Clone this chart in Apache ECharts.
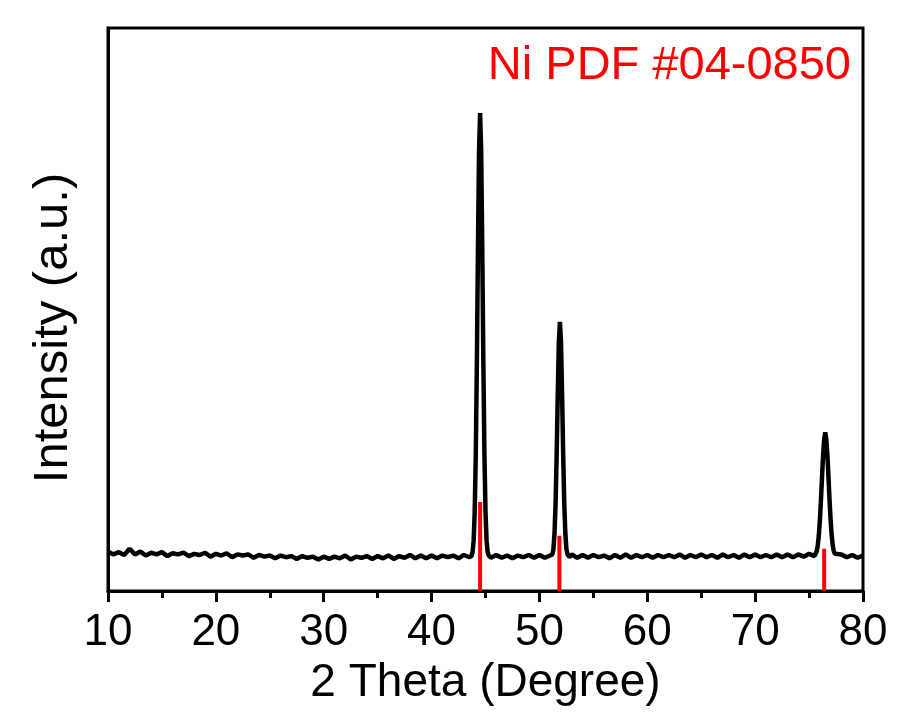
<!DOCTYPE html>
<html>
<head>
<meta charset="utf-8">
<script src="https://cdn.jsdelivr.net/npm/echarts@6/dist/echarts.min.js"></script>
<style>html,body{margin:0;padding:0;background:#fff}#c{width:903px;height:716px}</style>
</head>
<body>
<div id="c"></div>
<script>
// XRD pattern: 2θ (degree) and intensity (a.u., 0-100 scale)
var twoTheta = [
10.0,10.5,11.0,11.5,12.0,12.5,13.0,13.5,14.0,14.5,15.0,15.5,16.0,16.5,17.0,17.5,18.0,18.5,19.0,19.5,
20.0,20.5,21.0,21.5,22.0,22.5,23.0,23.5,24.0,24.5,25.0,25.5,26.0,26.5,27.0,27.5,28.0,28.5,29.0,29.5,
30.0,30.5,31.0,31.5,32.0,32.5,33.0,33.5,34.0,34.5,35.0,35.5,36.0,36.5,37.0,37.5,38.0,38.5,39.0,39.5,
40.0,40.5,41.0,41.5,42.0,42.5,43.0,43.5,43.7,43.8,43.9,44.0,44.1,44.2,44.3,44.4,44.5,44.6,44.7,44.8,
44.9,45.0,45.1,45.2,45.3,45.5,46.0,46.5,47.0,47.5,48.0,48.5,49.0,49.5,50.0,50.5,51.0,51.2,51.3,51.4,
51.5,51.6,51.7,51.8,51.9,52.0,52.1,52.2,52.3,52.4,52.5,52.6,52.8,53.0,53.5,54.0,54.5,55.0,55.5,56.0,
56.5,57.0,57.5,58.0,58.5,59.0,59.5,60.0,60.5,61.0,61.5,62.0,62.5,63.0,63.5,64.0,64.5,65.0,65.5,66.0,
66.5,67.0,67.5,68.0,68.5,69.0,69.5,70.0,70.5,71.0,71.5,72.0,72.5,73.0,73.5,74.0,74.5,75.0,75.5,75.6,
75.7,75.8,75.9,76.0,76.1,76.2,76.3,76.4,76.5,76.6,76.7,76.8,76.9,77.0,77.1,77.2,77.3,77.4,77.5,78.0,
78.5,79.0,79.5,80.0
];
var intensity = [
7.0,6.5,6.9,6.4,7.5,6.5,7.0,6.3,6.8,6.5,6.9,6.2,6.7,6.5,6.8,6.2,6.6,6.4,6.8,6.1,
6.6,6.3,6.7,6.0,6.5,6.3,6.5,5.9,6.4,6.1,6.3,5.8,6.3,6.0,6.2,5.7,6.2,5.9,6.1,5.6,
6.1,5.7,6.1,5.8,6.3,5.6,6.1,5.9,6.2,5.7,6.2,5.8,6.3,5.7,6.2,5.9,6.4,5.8,6.3,5.8,
6.3,5.8,6.3,6.0,6.3,5.8,6.4,6.0,6.2,6.9,8.9,14.1,24.3,40.7,60.8,78.1,84.9,78.1,60.8,40.7,
24.3,14.1,8.9,6.9,6.3,5.9,6.4,5.9,6.3,5.8,6.3,6.0,6.4,5.9,6.4,5.9,6.3,6.5,7.5,10.3,
15.7,24.4,35.0,44.2,47.8,44.2,35.0,24.4,15.7,10.3,7.5,6.5,6.0,6.5,5.9,6.4,5.9,6.4,6.0,6.3,
5.8,6.4,5.9,6.5,5.9,6.4,6.0,6.4,5.9,6.4,6.0,6.4,6.0,6.5,5.9,6.4,6.0,6.5,6.0,6.4,
5.9,6.5,6.0,6.4,5.9,6.5,6.0,6.5,6.0,6.4,6.0,6.5,6.0,6.5,6.0,6.5,6.1,6.6,6.2,6.5,
7.0,8.0,9.8,12.5,16.1,20.2,24.1,26.9,28.2,26.9,24.1,20.2,16.1,12.5,9.8,8.0,7.0,6.6,6.3,6.5,
6.0,6.4,5.9,6.3
];
// Reference lines (Ni PDF #04-0850)
var refTheta = [44.5, 51.85, 76.4];
var refIntensity = [15.8, 9.8, 7.5];
var xTicks = [10, 20, 30, 40, 50, 60, 70, 80];

var pattern = twoTheta.map(function (t, i) { return [t, intensity[i]]; });
var refs = refTheta.map(function (t, i) { return [t, refIntensity[i]]; });

var chart = echarts.init(document.getElementById('c'), null, {renderer: 'canvas'});
var font = "'Liberation Sans', Arial, sans-serif";
chart.setOption({
  animation: false,
  backgroundColor: '#fff',
  grid: {left: 108, right: 40, top: 28, bottom: 125, show: true, borderColor: '#000', borderWidth: 3, outerBoundsMode: 'none'},
  xAxis: {
    type: 'value', min: xTicks[0], max: xTicks[xTicks.length - 1], interval: 10,
    name: '2 Theta (Degree)', nameLocation: 'middle', nameGap: 64,
    nameTextStyle: {fontSize: 46, color: '#000', fontFamily: font},
    axisLine: {show: true, lineStyle: {color: '#000', width: 3}},
    axisTick: {show: true, inside: false, length: 11, lineStyle: {color: '#000', width: 3}},
    minorTick: {show: true, splitNumber: 2, length: 7, lineStyle: {color: '#000', width: 3}},
    axisLabel: {fontSize: 44, color: '#000', fontFamily: font, margin: 20},
    splitLine: {show: false}
  },
  yAxis: {
    type: 'value', min: 0, max: 100,
    axisLine: {show: true, lineStyle: {color: '#000', width: 3}},
    axisTick: {show: false}, axisLabel: {show: false}, splitLine: {show: false}
  },
  graphic: [{
    type: 'text', right: 52, top: 43, z: 100,
    style: {text: 'Ni PDF #04-0850', fill: '#ff0000', font: '47px ' + font}
  }, {
    type: 'text', x: 53, y: 328, rotation: Math.PI / 2, z: 100,
    style: {text: 'Intensity (a.u.)', fill: '#000', font: '49px ' + font, textAlign: 'center', textVerticalAlign: 'middle'}
  }],
  series: [
    {type: 'line', data: pattern, showSymbol: false, symbol: 'none', lineStyle: {color: '#000', width: 4.5}, z: 2},
    {type: 'bar', data: refs, barWidth: 4, itemStyle: {color: '#ff0000'}, z: 3}
  ]
});
</script>
</body>
</html>
